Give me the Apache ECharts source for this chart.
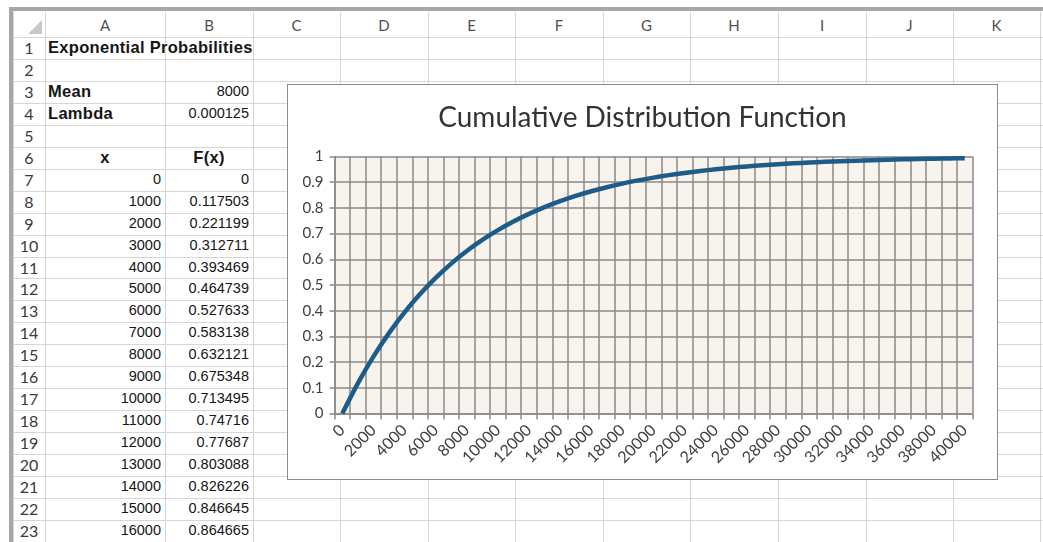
<!DOCTYPE html>
<html>
<head>
<meta charset="utf-8">
<script src="https://cdn.jsdelivr.net/npm/echarts@6/dist/echarts.min.js"></script>
<style>
  html, body { margin: 0; padding: 0; background: #fff; }
  #sheet { position: relative; width: 1043px; height: 542px; overflow: hidden; background: #fff; }
  .vl { position: absolute; width: 1px; background: #d6d6d6; }
  .hl { position: absolute; height: 1px; background: #d6d6d6; }
  .hdr { position: absolute; font-family: Lato, "Open Sans", sans-serif; font-size: 15px; color: #505050; text-align: center; }
  .rowh { font-size: 16px; color: #3a3a3a; }
  .cell { position: absolute; font-family: "Liberation Sans", Arial, sans-serif; font-size: 14.5px; color: #161616; white-space: nowrap; }
  .cell.b { font-weight: bold; font-size: 16.5px; letter-spacing: 0.3px; }
  #chartBox { position: absolute; left: 287px; top: 84px; width: 711px; height: 396px; background: #fff;
              box-sizing: border-box; border: 1.5px solid #8c8c8c; }
  #chart { width: 100%; height: 100%; }
</style>
</head>
<body>
<div id="sheet"></div>
<script>
// worksheet content
const colNames = ['A', 'B', 'C', 'D', 'E', 'F', 'G', 'H', 'I', 'J', 'K'];
const sheetTitle = 'Exponential Probabilities';
const meanLabel = 'Mean', meanValue = '8000';
const lambdaLabel = 'Lambda', lambdaValue = '0.000125';
const tableXHeader = 'x', tableFHeader = 'F(x)';
const tableX = ['0','1000','2000','3000','4000','5000','6000','7000','8000','9000','10000','11000','12000','13000','14000','15000','16000'];
const tableF = ['0','0.117503','0.221199','0.312711','0.393469','0.464739','0.527633','0.583138','0.632121','0.675348','0.713495','0.74716','0.77687','0.803088','0.826226','0.846645','0.864665'];

// chart data: x categories and F(x) values
const chartTitle = 'Cumulative Distribution Function';
const xCategories = ['0','1000','2000','3000','4000','5000','6000','7000','8000','9000','10000',
  '11000','12000','13000','14000','15000','16000','17000','18000','19000','20000',
  '21000','22000','23000','24000','25000','26000','27000','28000','29000','30000',
  '31000','32000','33000','34000','35000','36000','37000','38000','39000','40000'];
const cdfValues = [0, 0.117503, 0.221199, 0.312711, 0.393469, 0.464739, 0.527633, 0.583138, 0.632121, 0.675348, 0.713495,
  0.74716, 0.77687, 0.803088, 0.826226, 0.846645, 0.864665, 0.880567, 0.894601, 0.906986, 0.917915,
  0.92756, 0.936072, 0.943584, 0.950213, 0.956063, 0.961226, 0.965782, 0.969803, 0.973351, 0.976482,
  0.979246, 0.981684, 0.983837, 0.985736, 0.987412, 0.988891, 0.990196, 0.991348, 0.992365, 0.993262];

// sheet geometry
const colEdges = [13, 45, 165, 253, 340, 428, 515, 603, 690, 778, 866, 953, 1040];
const headTop = 12, rowTop = 37, rowH = 21.95, rowCount = 23;

const sheet = document.getElementById('sheet');
function add(cls, css, text) {
  const d = document.createElement('div');
  d.className = cls;
  Object.assign(d.style, css);
  if (text !== undefined) d.textContent = text;
  sheet.appendChild(d);
  return d;
}
// outer frame
add('', { position: 'absolute', left: '9px', top: '7px', width: '1034px', height: '4px', background: '#a6a6a6' });
add('', { position: 'absolute', left: '9px', top: '7px', width: '4px', height: '535px', background: '#a6a6a6' });
// vertical grid lines
colEdges.forEach(x => add('vl', { left: x + 'px', top: headTop + 'px', height: (542 - headTop) + 'px' }));
// horizontal grid lines
add('hl', { left: '13px', top: rowTop + 'px', width: '1030px' });
for (let r = 1; r <= rowCount; r++) {
  add('hl', { left: '13px', top: Math.round(rowTop + r * rowH) + 'px', width: '1030px' });
}
// corner triangle
add('', { position: 'absolute', left: '28px', top: '20px', width: '0', height: '0',
  borderLeft: '14px solid transparent', borderBottom: '14px solid #c8c8c8' });
// column headers
colNames.forEach((n, i) => {
  add('hdr', { left: colEdges[i + 1] + 'px', width: (colEdges[i + 2] - colEdges[i + 1]) + 'px', top: '14px', lineHeight: '22px' }, n);
});
// row headers
for (let r = 1; r <= rowCount; r++) {
  add('hdr rowh', { left: '13px', width: '32px', top: (rowTop + (r - 1) * rowH) + 'px', lineHeight: rowH + 'px' }, String(r));
}
function cellText(col, row, text, align, bold) {
  const left = colEdges[col + 1], right = colEdges[col + 2];
  const css = { top: (rowTop + (row - 1) * rowH) + 'px', lineHeight: rowH + 'px' };
  if (align === 'left') css.left = (left + 3) + 'px';
  else if (align === 'right') css.right = (1043 - right + 4) + 'px';
  else { css.left = left + 'px'; css.width = (right - left) + 'px'; css.textAlign = 'center'; }
  add(bold ? 'cell b' : 'cell', css, text);
}
cellText(0, 1, sheetTitle, 'left', true);
cellText(0, 3, meanLabel, 'left', true);
cellText(1, 3, meanValue, 'right', false);
cellText(0, 4, lambdaLabel, 'left', true);
cellText(1, 4, lambdaValue, 'right', false);
cellText(0, 6, tableXHeader, 'center', true);
cellText(1, 6, tableFHeader, 'center', true);
tableX.forEach((v, i) => {
  cellText(0, 7 + i, v, 'right', false);
  cellText(1, 7 + i, tableF[i], 'right', false);
});

// embedded chart
const box = add('', {});
box.id = 'chartBox';
const inner = document.createElement('div');
inner.id = 'chart';
box.appendChild(inner);

const gridColor = '#8a8a8a';
const labelFont = 'Lato, "Open Sans", sans-serif';
const chart = echarts.init(inner, null, { renderer: 'canvas' });
chart.setOption({
  animation: false,
  title: {
    text: chartTitle, left: 'center', top: 14,
    textStyle: { fontFamily: labelFont, fontSize: 28, fontWeight: 'normal', color: '#333' }
  },
  grid: {
    left: 46.5, right: 24.5, top: 71.5, bottom: 65.5,
    show: true, backgroundColor: '#f8f3ed', borderWidth: 0
  },
  xAxis: {
    type: 'category', data: xCategories, boundaryGap: true,
    axisLine: { show: true, lineStyle: { color: gridColor, width: 1.5 } },
    axisTick: { show: true, interval: 0, length: 6, lineStyle: { color: gridColor, width: 1.5 } },
    axisLabel: { interval: 1, rotate: 45, margin: 14, fontSize: 16,
      fontFamily: labelFont, color: '#404040' },
    splitLine: { show: true, interval: 0, lineStyle: { color: gridColor, width: 1.5 } }
  },
  yAxis: {
    type: 'value', min: 0, max: 1, interval: 0.1,
    axisLine: { show: true, lineStyle: { color: gridColor, width: 1.5 } },
    axisTick: { show: true, length: 5, lineStyle: { color: gridColor, width: 1.5 } },
    axisLabel: { margin: 11, fontSize: 15, fontFamily: labelFont, color: '#404040' },
    splitLine: { show: true, lineStyle: { color: gridColor, width: 1.5 } }
  },
  series: [{
    type: 'line', data: cdfValues, smooth: 0.3, symbol: 'none',
    lineStyle: { color: '#1d5c88', width: 4.5 }
  }]
});
</script>
</body>
</html>
